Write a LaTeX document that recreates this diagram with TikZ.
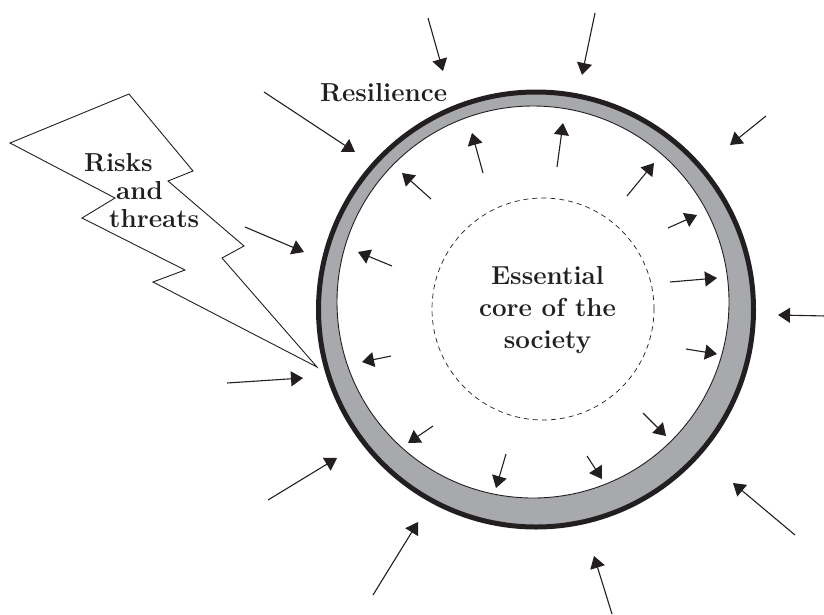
\documentclass[tikz,border=0pt]{standalone}
\usepackage{xcolor}
\usepackage{tikz}
\usetikzlibrary{
    arrows.meta
}
\definecolor{ringGrey}{RGB}{167, 169, 172}
\definecolor{inkBlack}{RGB}{35, 31, 32}

\begin{document}
\begin{tikzpicture}[x=1pt, y=-1pt,
    push/.style={-{Triangle[length=12pt, width=15pt]}, line width=1.1pt, inkBlack},
    bigtext/.style={inner sep=0pt, text=inkBlack, font=\bfseries\fontsize{26}{32}\selectfont}]
            \useasboundingbox (0,0) rectangle (824,614);
            \coordinate (C) at (536, 309.5);
            \coordinate (I) at (533, 302);
            \coordinate (K) at (543, 309);

            % lightning bolt
            \draw[line width=0.9pt, inkBlack, fill=white, line join=miter]
                (10,143) -- (129,94) -- (193,171) -- (168,181) -- (244,246)
                -- (222,258) -- (317,367) -- (153,282) -- (185,270)
                -- (82,218) -- (115,198) -- cycle;

            % resilience ring
            \fill[ringGrey] (C) circle (217.5pt);
            \draw[line width=0.9pt, inkBlack, fill=white] (I) circle (196pt);
            \draw[line width=5pt, inkBlack] (C) circle (217.5pt);

            % core
            \draw[dashed, dash pattern=on 5pt off 4pt, line width=0.7pt, inkBlack] (K) circle (111pt);

            \node[bigtext, align=center] (core) at (547.5, 310) {Essential\\core of the\\society};
            \node[bigtext, anchor=base west] (resil) at (320, 101) {Resilience};
            \node[bigtext, anchor=north west, align=left, font=\bfseries\fontsize{26}{28}\selectfont]
                (risks) at (84, 153) {Risks\\\hspace*{32pt}and\\\hspace*{25pt}threats};

            % pressures from outside
            \draw[push] (428,18) -- (443,71);
            \draw[push] (595,13) -- (582,75);
            \draw[push] (766,116) -- (730,145);
            \draw[push] (826,316) -- (778,315);
            \draw[push] (795,535) -- (733,483);
            \draw[push] (612,614) -- (594,556);
            \draw[push] (373,595) -- (418,522);
            \draw[push] (268,500) -- (337,458);
            \draw[push] (227,383) -- (303,378);
            \draw[push] (245,227) -- (304,252);
            \draw[push] (264,92) -- (355,152);

            % responses from inside
            \draw[push] (483,173) -- (472,133);
            \draw[push] (557,167) -- (563,123);
            \draw[push] (431,199) -- (402,173);
            \draw[push] (627,196) -- (654,163);
            \draw[push] (668,228) -- (697,215);
            \draw[push] (392,266) -- (358,252);
            \draw[push] (670,282) -- (717,278);
            \draw[push] (391,356) -- (362,362);
            \draw[push] (686,349) -- (717,354);
            \draw[push] (433,426) -- (408,443);
            \draw[push] (643,413) -- (666,436);
            \draw[push] (506,454) -- (496,488);
            \draw[push] (587,456) -- (602,479);
        \end{tikzpicture}
\end{document}
